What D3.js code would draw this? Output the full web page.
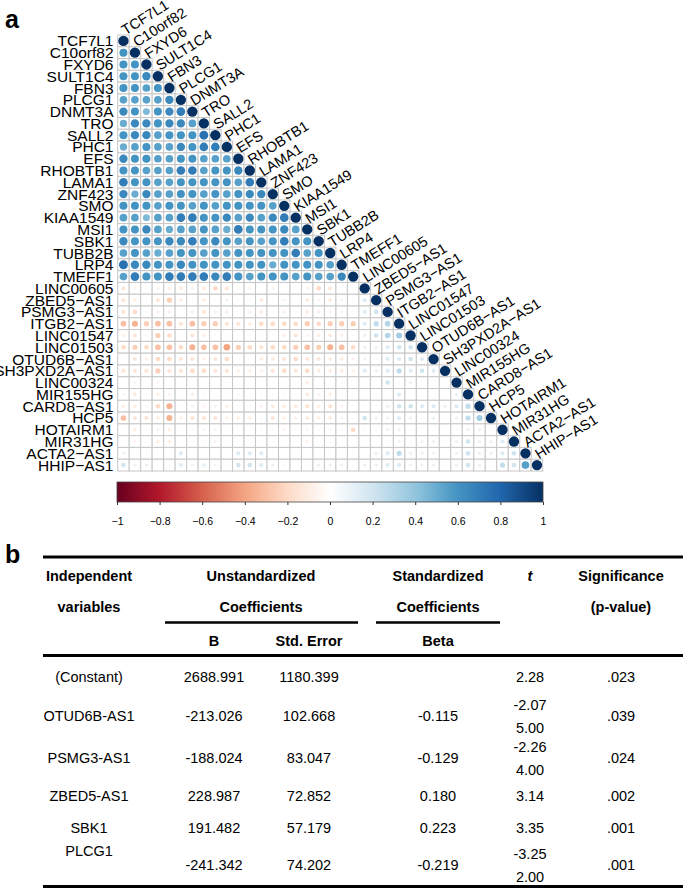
<!DOCTYPE html>
<html><head><meta charset="utf-8">
<script src="https://cdn.jsdelivr.net/npm/d3@7"></script>
<style>
body{margin:0;background:#fff}
svg{display:block}
text{font-family:"Liberation Sans",Arial,Helvetica,sans-serif;fill:#000}
</style>
</head><body>
<svg id="chart" width="685" height="889"></svg>
<script>
// ---------- DATA ----------
const genes = ["TCF7L1","C10orf82","FXYD6","SULT1C4","FBN3","PLCG1","DNMT3A","TRO","SALL2","PHC1","EFS","RHOBTB1","LAMA1","ZNF423","SMO","KIAA1549","MSI1","SBK1","TUBB2B","LRP4","TMEFF1","LINC00605","ZBED5−AS1","PSMG3−AS1","ITGB2−AS1","LINC01547","LINC01503","OTUD6B−AS1","SH3PXD2A−AS1","LINC00324","MIR155HG","CARD8−AS1","HCP5","HOTAIRM1","MIR31HG","ACTA2−AS1","HHIP−AS1"];

// lower triangle: row i holds correlations with columns 0..i-1 (diagonal = 1)
const corrLower = [
 [],
 [0.6],
 [0.6,0.6],
 [0.6,0.6,0.65],
 [0.6,0.6,0.55,0.6],
 [0.55,0.55,0.55,0.55,0.65],
 [0.65,0.6,0.45,0.6,0.65,0.7],
 [0.5,0.65,0.65,0.6,0.65,0.65,0.55],
 [0.6,0.65,0.65,0.55,0.6,0.6,0.6,0.75],
 [0.5,0.55,0.6,0.55,0.55,0.65,0.6,0.7,0.7],
 [0.65,0.6,0.6,0.55,0.55,0.6,0.6,0.55,0.55,0.55],
 [0.6,0.6,0.55,0.55,0.55,0.7,0.7,0.55,0.6,0.6,0.65],
 [0.7,0.6,0.6,0.55,0.55,0.6,0.6,0.6,0.6,0.6,0.55,0.7],
 [0.65,0.5,0.65,0.55,0.55,0.6,0.6,0.55,0.6,0.55,0.6,0.65,0.65],
 [0.6,0.6,0.6,0.55,0.6,0.6,0.55,0.6,0.55,0.6,0.6,0.6,0.6,0.55],
 [0.55,0.55,0.45,0.55,0.55,0.7,0.7,0.6,0.6,0.65,0.55,0.65,0.55,0.65,0.7],
 [0.6,0.6,0.65,0.55,0.5,0.55,0.55,0.6,0.55,0.5,0.7,0.6,0.6,0.6,0.65,0.55],
 [0.65,0.6,0.6,0.6,0.65,0.65,0.7,0.6,0.65,0.6,0.55,0.6,0.55,0.6,0.7,0.6,0.6],
 [0.55,0.6,0.55,0.5,0.55,0.6,0.6,0.55,0.6,0.55,0.6,0.6,0.6,0.6,0.6,0.7,0.55,0.6],
 [0.75,0.65,0.65,0.6,0.6,0.65,0.6,0.6,0.6,0.6,0.6,0.6,0.6,0.5,0.6,0.6,0.6,0.6,0.55],
 [0.55,0.7,0.6,0.6,0.7,0.7,0.7,0.7,0.65,0.7,0.6,0.55,0.6,0.6,0.6,0.55,0.6,0.55,0.55,0.65],
 [-0.15,-0.08,-0.05,-0.08,-0.1,-0.12,-0.1,-0.12,-0.2,-0.15,-0.05,-0.08,-0.05,-0.08,-0.05,-0.05,-0.08,-0.2,-0.15,-0.03,-0.03],
 [-0.15,-0.1,-0.03,-0.15,-0.25,-0.1,-0.05,-0.1,-0.05,-0.08,-0.05,-0.05,-0.12,-0.03,-0.08,-0.03,-0.12,-0.08,-0.12,-0.08,-0.03,0.15],
 [-0.15,-0.2,-0.05,-0.1,-0.1,0,-0.1,-0.15,-0.1,-0.1,-0.02,-0.1,-0.12,-0.05,-0.1,-0.05,-0.12,-0.1,-0.1,-0.08,-0.05,0.15,0.2],
 [-0.3,-0.35,-0.25,-0.3,-0.3,-0.15,-0.3,-0.25,-0.25,-0.15,-0.15,-0.1,-0.2,-0.2,-0.2,-0.2,-0.25,-0.2,-0.25,-0.25,-0.25,0.15,0.25,0.3],
 [-0.1,-0.15,-0.05,-0.25,-0.2,-0.05,-0.15,-0.1,-0.05,-0.05,-0.05,-0.05,-0.05,-0.05,-0.1,-0.15,-0.08,-0.1,-0.12,-0.1,-0.05,0.1,0.2,0.3,0.35],
 [-0.2,-0.25,-0.2,-0.3,-0.3,-0.2,-0.35,-0.3,-0.3,-0.4,-0.25,-0.2,-0.15,-0.2,-0.2,-0.25,-0.3,-0.25,-0.35,-0.3,-0.2,0.1,0.1,0.15,0.2,0.2],
 [-0.05,-0.15,-0.1,-0.2,-0.2,-0.15,-0.15,-0.1,-0.15,-0.2,-0.03,-0.03,-0.12,-0.12,-0.15,-0.2,-0.15,-0.15,-0.12,-0.12,-0.08,0.1,0.05,0.15,0.15,0.2,0.15],
 [-0.15,-0.15,-0.15,-0.25,-0.15,-0.15,-0.2,-0.2,-0.15,-0.15,-0.1,-0.1,-0.1,-0.15,-0.2,-0.15,-0.2,-0.12,-0.12,-0.12,-0.1,0.15,0.1,0.15,0.25,0.15,0.2,0.15],
 [0,-0.08,-0.03,-0.08,-0.05,0.02,-0.03,-0.03,0.02,-0.05,0,0,-0.02,-0.03,-0.03,-0.05,-0.1,-0.05,-0.02,-0.05,0,0,0,0.2,0.05,0.1,0.03,0.02,0.02],
 [-0.08,-0.12,-0.05,-0.1,-0.08,-0.03,-0.1,-0.05,-0.03,-0.05,-0.05,-0.03,-0.05,-0.05,-0.05,-0.05,-0.12,-0.08,-0.1,-0.03,-0.03,-0.03,-0.05,0.03,0.15,0.05,0.02,0.02,0.02,0.1],
 [-0.1,-0.1,-0.05,-0.2,-0.35,-0.05,-0.08,-0.08,-0.08,-0.1,-0.05,-0.05,-0.08,-0.12,-0.12,-0.12,-0.15,-0.1,-0.15,-0.08,-0.05,0.05,0.05,0.1,0.2,0.2,0.15,0.15,0.1,0.15,0.25],
 [-0.3,-0.15,-0.15,-0.1,-0.35,-0.1,-0.15,-0.15,-0.15,-0.1,-0.1,-0.1,-0.05,-0.15,-0.1,-0.1,-0.12,-0.1,-0.12,-0.08,-0.05,0.2,0.1,0.1,0.15,0.1,0.05,0.1,0.05,0.1,0.25,0.35],
 [-0.02,-0.1,-0.05,-0.08,-0.1,-0.05,-0.05,-0.08,-0.08,-0.05,-0.03,-0.03,-0.05,-0.05,-0.08,-0.05,-0.08,-0.05,-0.05,-0.05,-0.2,0.05,0.05,0.1,0.1,0.05,0.02,0.02,0.02,0.05,0.1,0.1,0.05],
 [-0.03,-0.08,-0.05,-0.1,-0.1,-0.02,-0.05,-0.05,-0.08,-0.03,-0.03,0,-0.02,-0.03,-0.03,-0.05,-0.08,-0.03,-0.03,-0.03,-0.02,0.03,0.03,0.05,0.08,0.05,0.1,0.1,0.05,0.1,0.2,0.1,0.1,0.15],
 [0.08,0,0,-0.02,0.02,0.15,0.02,0,0.03,0,0.15,0.15,0.15,0.05,0.02,0,-0.05,0.02,0,0.02,0.05,0.05,0.1,0.15,0.25,0.1,0.1,0.1,0.05,0.1,0.2,0.1,0.1,0.15,0.2],
 [0.2,0.1,0.1,0.03,0.05,0.15,0.08,0.12,0.08,0.05,0.2,0.2,0.15,0.1,0.05,0.03,0.05,0.1,0.1,0.1,0.05,0.1,0.1,0.15,0.15,0.1,0.1,0.1,0.05,0.1,0.2,0.1,0.05,0.25,0.2,0.55]
];

const barTicks = [-1,-0.8,-0.6,-0.4,-0.2,0,0.2,0.4,0.6,0.8,1];
const palette = ["#67001F","#B2182B","#D6604D","#F4A582","#FDDBC7","#FFFFFF","#D1E5F0","#92C5DE","#4393C3","#2166AC","#053061"];

// Table b
const tableVars = ["(Constant)","OTUD6B-AS1","PSMG3-AS1","ZBED5-AS1","SBK1","PLCG1"];
const tableB    = ["2688.991","-213.026","-188.024","228.987","191.482","-241.342"];
const tableSE   = ["1180.399","102.668","83.047","72.852","57.179","74.202"];
const tableBeta = ["","-0.115","-0.129","0.180","0.223","-0.219"];
const tableT    = [["2.28"],["-2.07","5.00"],["-2.26","4.00"],["3.14"],["3.35"],["-3.25","2.00"]];
const tableP    = [".023",".039",".024",".002",".001",".001"];

// ---------- DRAW ----------
const svg = d3.select("#chart");
const x = d3.scaleBand().domain(genes).range([117.7, 542.7]);
const y = d3.scaleBand().domain(genes).range([35, 471]);
const color = d3.scaleLinear().domain(barTicks).range(palette).interpolate(d3.interpolateRgb);
const cell = Math.min(x.bandwidth(), y.bandwidth());

const cells = [];
genes.forEach((g, i) => {
  corrLower[i].forEach((v, j) => cells.push({row: g, col: genes[j], v}));
  cells.push({row: g, col: g, v: 1});
});

const gM = svg.append("g");
gM.selectAll("rect.cell").data(cells).join("rect")
  .attr("class","cell")
  .attr("x", d => x(d.col)).attr("y", d => y(d.row))
  .attr("width", x.bandwidth()).attr("height", y.bandwidth())
  .attr("fill","#fff").attr("stroke","#c6c6c6").attr("stroke-width",1);
gM.selectAll("circle").data(cells).join("circle")
  .attr("cx", d => x(d.col) + x.bandwidth()/2)
  .attr("cy", d => y(d.row) + y.bandwidth()/2)
  .attr("r", d => 0.9 * Math.sqrt(Math.abs(d.v)) / 2 * cell)
  .attr("fill", d => color(d.v));

// row labels
gM.selectAll("text.rl").data(genes).join("text")
  .attr("class","rl")
  .attr("x", 113.5).attr("y", d => y(d) + y.bandwidth()/2)
  .attr("text-anchor","end").attr("dominant-baseline","central")
  .attr("font-size",15.5).text(d => d);

// diagonal labels
gM.selectAll("text.dl").data(genes).join("text")
  .attr("class","dl")
  .attr("transform", d => `translate(${x(d) + x.bandwidth()/2 + 2},${y(d) + y.bandwidth()/2 - 5.5}) rotate(-32)`)
  .attr("font-size",14.5).text(d => d);

// colour bar
const bx = d3.scaleLinear().domain([-1,1]).range([117, 543]);
const defs = svg.append("defs");
const grad = defs.append("linearGradient").attr("id","cbar").attr("x1","0%").attr("x2","100%");
barTicks.forEach((t,i) => grad.append("stop").attr("offset", (i/(barTicks.length-1)*100)+"%").attr("stop-color", palette[i]));
svg.append("rect").attr("x", bx(-1)).attr("y", 482).attr("width", bx(1)-bx(-1)).attr("height", 20)
  .attr("fill","url(#cbar)").attr("stroke","#444").attr("stroke-width",0.8);
const axis = d3.axisBottom(bx).tickValues(barTicks).tickSize(3).tickFormat(d3.format(""));
const gA = svg.append("g").attr("transform","translate(0,502)").call(axis);
gA.select(".domain").remove();
gA.selectAll(".tick line").attr("stroke","#333");
gA.selectAll(".tick text").attr("font-size",10.5).attr("y",16).attr("fill","#000")
  .style("font-family",'"Liberation Sans",Arial,sans-serif');

// panel letters
svg.append("text").attr("x",5).attr("y",28).attr("font-size",25).attr("font-weight","bold").text("a");
svg.append("text").attr("x",5).attr("y",563).attr("font-size",25).attr("font-weight","bold").text("b");

// ---------- TABLE ----------
const colX = [89, 214, 309, 438, 530, 621];
const gT = svg.append("g");
const rule = (x1,x2,yy,w) => gT.append("line").attr("x1",x1).attr("x2",x2).attr("y1",yy).attr("y2",yy).attr("stroke","#000").attr("stroke-width",w);
rule(43,683,557,3);
rule(165,358,622.5,2.5);
rule(376,500,622.5,2.5);
rule(43,683,655.5,3);
rule(43,683,886.5,3);

const hdr = (t,xx,yy,opt={}) => gT.append("text").attr("x",xx).attr("y",yy).attr("text-anchor","middle")
  .attr("dominant-baseline","central").attr("font-size",14.5).attr("font-weight","bold")
  .attr("font-style",opt.italic?"italic":"normal").text(t);
hdr("Independent", colX[0], 576);
hdr("Unstandardized", 261, 576);
hdr("Standardized", colX[3], 576);
hdr("t", colX[4], 576, {italic:true});
hdr("Significance", colX[5], 576);
hdr("variables", colX[0], 607);
hdr("Coefficients", 261, 607);
hdr("Coefficients", colX[3], 607);
hdr("(p-value)", colX[5], 607);
hdr("B", colX[1], 641);
hdr("Std. Error", colX[2], 641);
hdr("Beta", colX[3], 641);

const rowY   = [677, 716, 758, 796, 828, 865];
const labelY = [677, 716, 758, 796, 828, 851];
const cellT = (t,xx,yy) => gT.append("text").attr("x",xx).attr("y",yy).attr("text-anchor","middle")
  .attr("dominant-baseline","central").attr("font-size",14.5).text(t);
tableVars.forEach((v,i) => {
  cellT(v, colX[0], labelY[i]);
  cellT(tableB[i], colX[1], rowY[i]);
  cellT(tableSE[i], colX[2], rowY[i]);
  if (tableBeta[i]) cellT(tableBeta[i], colX[3], rowY[i]);
  const tv = tableT[i];
  if (tv.length === 1) cellT(tv[0], colX[4], rowY[i]);
  else { cellT(tv[0], colX[4], rowY[i]-11); cellT(tv[1], colX[4], rowY[i]+11.5); }
  cellT(tableP[i], colX[5], rowY[i]);
});
</script>
</body></html>
